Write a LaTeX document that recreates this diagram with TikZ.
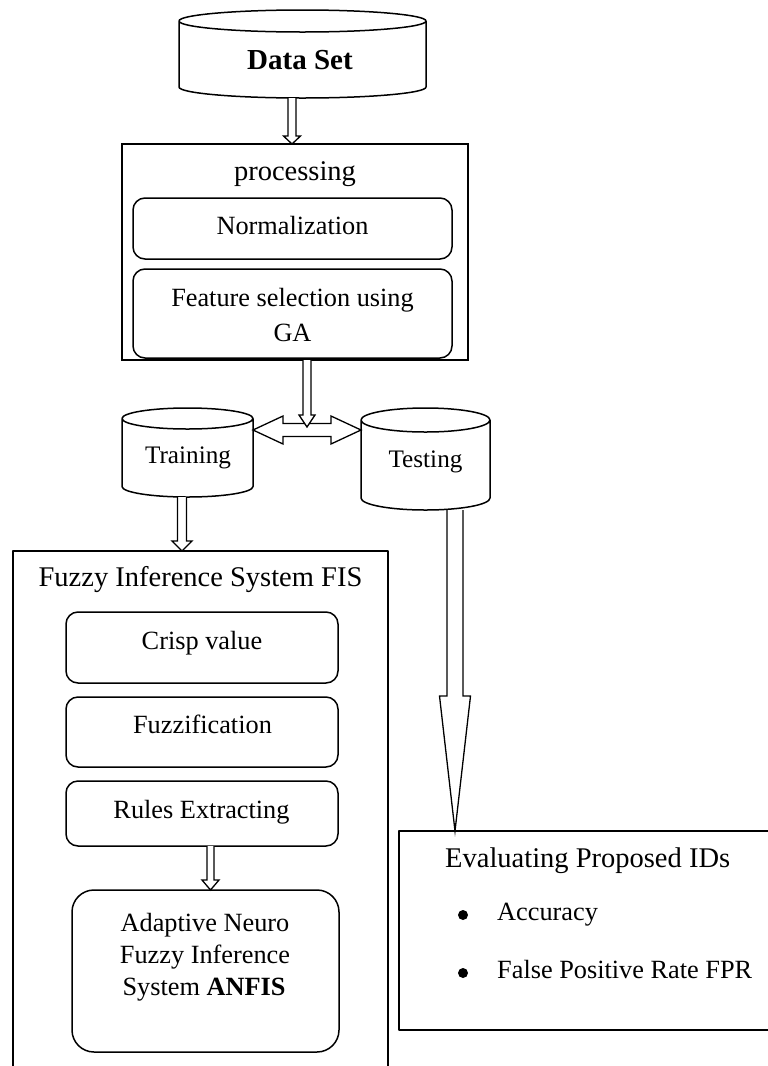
\documentclass[tikz,border=0pt]{standalone}
\usepackage{fontspec}
\setmainfont{Liberation Serif}
\usetikzlibrary{calc}

% hollow block arrow pointing down: start, tip, shaft half width, head half width, head length
\newcommand\blockdown[5]{%
  \draw[blk] let \p1=#1, \p2=#2 in
    (\x1-#3,\y1) -- (\x1-#3,\y2+#5) -- (\x1-#4,\y2+#5) -- (\x1,\y2)
    -- (\x1+#4,\y2+#5) -- (\x1+#3,\y2+#5) -- (\x1+#3,\y1);}
% hollow double-headed horizontal block arrow between two points
\newcommand\blockboth[2]{%
  \draw[blk] let \p1=#1, \p2=#2 in
    (\x1,\y1) -- (\x1+30pt,\y1+14pt) -- (\x1+30pt,\y1+6.5pt) -- (\x2-30pt,\y1+6.5pt)
    -- (\x2-30pt,\y1+14pt) -- (\x2,\y1) -- (\x2-30pt,\y1-14pt) -- (\x2-30pt,\y1-6.5pt)
    -- (\x1+30pt,\y1-6.5pt) -- (\x1+30pt,\y1-14pt) -- cycle;}
% database cylinder drawn over the extent of a named node, end radius #2
\newcommand\dbcylinder[2]{%
  \draw[ln] let \p1=(#1.north west), \p2=(#1.south east), \n1={(\x2-\x1)/2} in
    (\x1,\y1-#2) -- (\x1,\y2+#2)
    arc[start angle=180,end angle=360,x radius=\n1,y radius=#2]
    -- (\x2,\y1-#2)
    (\x1,\y1-#2) arc[start angle=180,end angle=-180,x radius=\n1,y radius=#2];}

\begin{document}
\begin{tikzpicture}[x=1pt,y=1pt,
  ln/.style={line width=1.5pt,line join=round},
  area/.style={inner sep=0pt,outer sep=0pt},
  frame/.style={area,draw,line width=1.5pt},
  rbox/.style={area,draw,line width=1.5pt,rounded corners=12pt},
  blk/.style={draw,fill=white,line width=1.3pt,line join=miter},
  txt/.style={inner sep=0pt,anchor=base,font=\fontsize{26.3}{32}\selectfont},
  head/.style={txt,font=\fontsize{28.5}{34}\selectfont},
  dbtxt/.style={txt,font=\fontsize{25.2}{30}\selectfont},
  txtl/.style={txt,anchor=base west}]
\useasboundingbox (0,0) rectangle (768,-1066);

% ---- data set ----
\node[area,minimum width=247pt,minimum height=88pt] (dataset) at (302.5,-54) {};
\dbcylinder{dataset}{11pt}
\node[head,font=\fontsize{29}{34}\selectfont] (tdata) at (300,-69) {\textbf{Data Set}};

% ---- processing ----
\node[frame,minimum width=346pt,minimum height=216pt] (proc) at (295,-252) {};
\node[head] (tproc) at (295,-180) {processing};
\node[rbox,minimum width=319pt,minimum height=61pt] (norm) at (292.5,-228.5) {};
\node[txt] (tnorm) at (292.5,-234) {Normalization};
\node[rbox,minimum width=319pt,minimum height=89pt] (feat) at (292.5,-313.5) {};
\node[txt] (tfeat1) at (292.5,-306) {Feature selection using};
\node[txt] (tfeat2) at (292.5,-341) {GA};

% ---- training / testing ----
\node[area,minimum width=131pt,minimum height=89pt] (train) at (187.5,-452.5) {};
\dbcylinder{train}{10.5pt}
\node[dbtxt] (ttrain) at (188,-463) {Training};
\node[area,minimum width=129pt,minimum height=102pt] (test) at (425.5,-459) {};
\dbcylinder{test}{12pt}
\node[dbtxt] (ttest) at (425.5,-467) {Testing};
\coordinate (split) at (307,-430);

% ---- fuzzy inference system ----
\node[area,minimum width=375pt,minimum height=515pt] (fis) at (200.5,-808.5) {};
\draw[ln,line cap=butt] (fis.south west) -- (fis.north west) -- (fis.north east) -- (fis.south east);
\node[head] (tfis) at (200.5,-586) {Fuzzy Inference System FIS};
\node[rbox,minimum width=272pt,minimum height=71pt] (crisp) at (202,-647.5) {};
\node[txt] (tcrisp) at (202,-649) {Crisp value};
\node[rbox,minimum width=272pt,minimum height=70pt] (fuzz) at (202,-732) {};
\node[txt] (tfuzz) at (202.5,-733) {Fuzzification};
\node[rbox,minimum width=272pt,minimum height=65pt] (rules) at (202,-813.5) {};
\node[txt] (trules) at (201.5,-818) {Rules Extracting};
\node[rbox,rounded corners=22pt,minimum width=267pt,minimum height=162pt] (anfis) at (205.5,-971) {};
\node[txt] (tanfis1) at (205,-931) {Adaptive Neuro};
\node[txt] (tanfis2) at (205,-963) {Fuzzy Inference};
\node[txt] (tanfis3) at (204,-995) {System \textbf{ANFIS}};

% ---- evaluation ----
\node[area,minimum width=369pt,minimum height=199pt] (eval) at (583.5,-930.5) {};
\draw[ln,line cap=butt] (eval.north east) -- (eval.north west) -- (eval.south west) -- (eval.south east);
\node[head,anchor=base west] (teval) at (445,-867) {Evaluating Proposed IDs};
\fill (463,-915) circle[radius=5pt];
\node[txtl] (tacc) at (497,-920) {Accuracy};
\fill (463,-973) circle[radius=5pt];
\node[txtl] (tfpr) at (497,-978) {False Positive Rate FPR};

% ---- block arrows ----
\blockdown{([xshift=-10.5pt]dataset.south)}{(proc.north)}{4pt}{8.5pt}{8pt}
\blockboth{([yshift=-22pt]train.north east)}{([yshift=-22pt]test.north west)}
\blockdown{([xshift=12pt]proc.south)}{([yshift=3pt]split)}{4pt}{8pt}{12pt}
\blockdown{([xshift=-5.5pt]train.south)}{(fis.north)}{4.5pt}{10pt}{10pt}
\blockdown{([xshift=29.5pt]test.south)}{(eval.north)}{8pt}{15.5pt}{135pt}
\blockdown{([xshift=8.5pt]rules.south)}{(anfis.north)}{3.5pt}{8.5pt}{10pt}
\end{tikzpicture}
\end{document}
